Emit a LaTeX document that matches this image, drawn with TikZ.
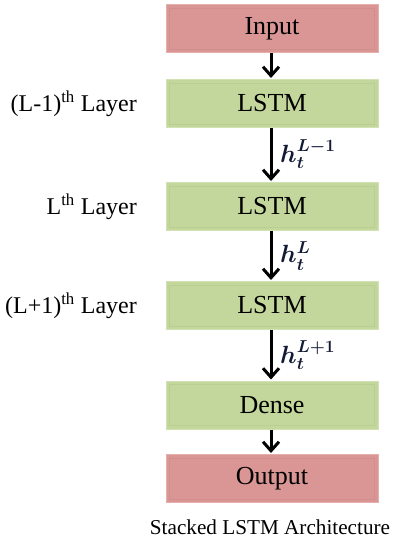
\documentclass[tikz,border=0pt]{standalone}
\usepackage{fontspec}
\setmainfont{Liberation Serif}
\usepackage{amsmath}
\usetikzlibrary{arrows.meta}
\definecolor{pinkfill}{RGB}{217,150,148}
\definecolor{pinkedge}{RGB}{230,175,173}
\definecolor{pinkin}{RGB}{209,142,140}
\definecolor{greenfill}{RGB}{195,214,155}
\definecolor{greenedge}{RGB}{210,226,178}
\definecolor{greenin}{RGB}{186,206,146}
\definecolor{hcol}{RGB}{18,26,52}
\tikzset{
  layerbox/.style={minimum width=212pt, minimum height=48pt, inner sep=0pt,
     font=\fontsize{26}{28}\selectfont, line width=1pt},
  pinkbox/.style={layerbox, fill=pinkfill, draw=pinkedge},
  greenbox/.style={layerbox, fill=greenfill, draw=greenedge},
  flow/.style={line width=3pt, -{Straight Barb[length=9pt,width=16pt,line width=3pt]}, shorten >=1pt},
  sidelabel/.style={anchor=east, font=\fontsize{24}{26}\selectfont, inner sep=0pt},
  hlabel/.style={anchor=west, text=hcol, font=\fontsize{26}{28}\selectfont\boldmath, inner sep=0pt}
}
\newcommand{\bevel}[2]{%
  \draw[#2, line width=0.7pt] ([shift={(4pt,-4pt)}]#1.north west) rectangle ([shift={(-4pt,4pt)}]#1.south east);}
\begin{document}
\begin{tikzpicture}[x=1pt,y=1pt]
\useasboundingbox (0,0) rectangle (393,-541);
\node[pinkbox]  (in)  at (272,-28.5) {Input};
\node[greenbox] (l1)  at (272,-103.5) {LSTM};
\node[greenbox] (l2)  at (272,-206.5) {LSTM};
\node[greenbox] (l3)  at (272,-305.5) {LSTM};
\node[greenbox] (de)  at (272,-405) {Dense};
\node[pinkbox]  (out) at (272,-478.5) {Output};
\bevel{in}{pinkin}
\bevel{out}{pinkin}
\bevel{l1}{greenin}
\bevel{l2}{greenin}
\bevel{l3}{greenin}
\bevel{de}{greenin}
\draw[flow] ([xshift=-1pt]in.south) -- ([xshift=-1pt]l1.north);
\draw[flow] ([xshift=-1pt]l1.south) -- ([xshift=-1pt]l2.north);
\draw[flow] ([xshift=-1pt]l2.south) -- ([xshift=-1pt]l3.north);
\draw[flow] ([xshift=-1pt]l3.south) -- ([xshift=-1pt]de.north);
\draw[flow] ([xshift=-1pt]de.south) -- ([xshift=-1pt]out.north);
\node[hlabel] (h1) at (280,-154) {$h_t^{L-1}$};
\node[hlabel] (h2) at (280,-256) {$h_t^{L}$};
\node[hlabel] (h3) at (280,-355) {$h_t^{L+1}$};
\node[sidelabel] (s1) at (137,-104) {(L-1)\textsuperscript{th} Layer};
\node[sidelabel] (s2) at (137,-207) {L\textsuperscript{th} Layer};
\node[sidelabel] (s3) at (137,-306) {(L+1)\textsuperscript{th} Layer};
\node[font=\fontsize{21.2}{23}\selectfont, inner sep=0pt] (cap) at (270,-527) {Stacked LSTM Architecture};
\end{tikzpicture}
\end{document}
